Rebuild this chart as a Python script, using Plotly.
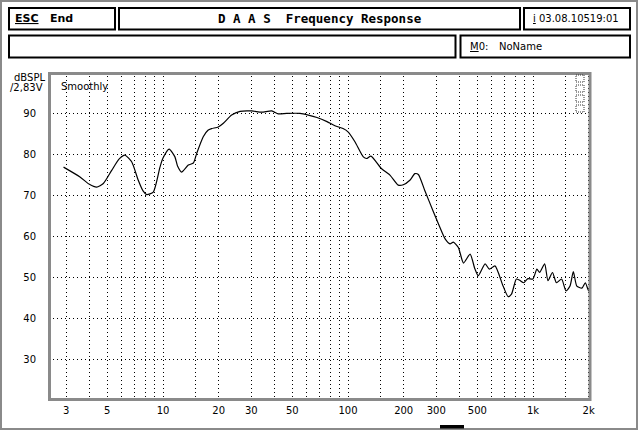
import plotly.graph_objects as go

# ---- data ----
freq_hz = [2.9, 3.56, 4.0, 4.38, 4.76, 5.28, 5.8, 6.23, 6.77, 7.35, 7.8, 8.16, 8.86,
           9.63, 10.0, 10.8, 11.6, 12.0, 12.6, 13.7, 14.6, 15.2, 16.5, 17.5, 18.3,
           19.9, 21.2, 23.5, 26.1, 30.2, 34.1, 38.7, 42, 46.6, 55, 61, 68, 77, 85,
           94, 100, 109, 121, 126, 133, 152, 169, 187, 199, 216, 230, 240, 260, 289,
           308, 335, 356, 371, 395, 421, 457, 485, 506, 551, 581, 623, 689, 734, 765,
           813, 847, 890, 938, 998, 1050, 1086, 1156, 1205, 1274, 1339, 1427, 1508,
           1585, 1652, 1725, 1838, 1917, 2000, 2041]
spl_db = [76.8, 74.4, 72.6, 71.9, 72.8, 76.0, 78.8, 79.7, 78.1, 73.6, 71.0, 70.1, 70.7,
          76.8, 79.0, 81.2, 79.3, 77.0, 75.6, 77.3, 77.8, 80.1, 84.2, 85.8, 86.2,
          86.6, 87.5, 89.5, 90.4, 90.5, 90.2, 90.5, 89.8, 89.9, 89.9, 89.5, 88.9, 87.9, 86.9,
          86.2, 85.4, 83.0, 79.3, 78.9, 79.5, 76.4, 74.8, 72.4, 72.5, 73.6, 75.2, 75.0, 71.1, 66.0,
          63.0, 59.3, 58.1, 58.5, 57.2, 53.4, 55.6, 52.0, 50.3, 53.2, 51.9, 52.7, 47.8, 45.2, 45.8,
          49.5, 49.2, 48.6, 49.6, 49.5, 51.9, 51.1, 53.2, 49.1, 51.1, 48.6, 49.5, 46.6,
          47.8, 51.3, 47.8, 47.3, 48.6, 46.6, 47.4]

x_grid = [3, 4, 5, 6, 7, 8, 9, 10, 15, 20, 30, 40, 50, 60, 70, 80, 90, 100, 150,
          200, 300, 400, 500, 600, 700, 800, 900, 1000, 1500, 2000]
x_labels = {3: "3", 5: "5", 10: "10", 20: "20", 30: "30", 50: "50", 100: "100",
            200: "200", 300: "300", 500: "500", 1000: "1k", 2000: "2k"}
y_ticks = [30, 40, 50, 60, 70, 80, 90]
y_labels = ["30", "40", "50", "60", "70", "80", "90"]

title_text = "D A A S  Frequency Response"
date_text = "03.08.10519:01"
model_text = "NoName"

# ---- geometry ----
W, H = 640, 431
L, R, T, B = 49, 591, 72, 400
PW, PH = R - L, B - T


def xp(px):
    return (px - L) / PW


def yp(py):
    return (B - py) / PH


FONT = "DejaVu Sans"

fig = go.Figure()
fig.add_trace(go.Scatter(x=freq_hz, y=spl_db, mode="lines",
                         line=dict(color="black", width=1.2, shape="spline", smoothing=0.6),
                         hoverinfo="skip", showlegend=False))

shapes = []


def rect(x0, y0, x1, y1, color="black", width=2, dash="solid", fill=None):
    d = dict(type="rect", xref="paper", yref="paper",
             x0=xp(x0), x1=xp(x1), y0=yp(y0), y1=yp(y1),
             line=dict(color=color, width=width, dash=dash), layer="above")
    if fill:
        d["fillcolor"] = fill
        d["line"]["width"] = 0
    shapes.append(d)


# outer dithered frame
rect(1, 1, 637, 429, color="#8a8a8a", width=2)
# header boxes
rect(9, 8, 115, 29.5)
rect(119, 8, 520, 29.5)
rect(524, 8, 630, 29.5)
rect(9, 35.5, 455.5, 57.5)
rect(460.5, 35.5, 630, 57.5)
# plot border (dithered)
rect(49.5, 73.5, 590, 399.5, color="#8a8a8a", width=3)
# little icon stack in top-right corner of plot
for i in range(4):
    rect(576, 75 + i * 10, 584, 82 + i * 10, color="#333333", width=1, dash="1px,1px")
# scroll marker at bottom
rect(440, 425, 464, 428.5, fill="black")

annotations = []


def text(px, py, s, size=10, bold=False, anchor="left", family=FONT):
    if bold:
        s = "<b>" + s + "</b>"
    annotations.append(dict(xref="paper", yref="paper", x=xp(px), y=yp(py), text=s,
                            showarrow=False, xanchor=anchor, yanchor="middle",
                            font=dict(family=family, size=size, color="black")))


text(13, 19, "<u>ESC</u>", size=11, bold=True)
text(48, 19, "End", size=11, bold=True)
text(320, 19, title_text, size=12.5, bold=True, anchor="center", family="DejaVu Sans Mono")
text(531, 18.5, "<u>i</u> " + date_text, size=10)
text(468, 46.5, "<u>M</u>0:", size=10)
text(497, 46.5, model_text, size=10)
text(12, 77, "dBSPL", size=10)
text(8, 87.5, "/2,83V", size=10)
text(59, 86, "Smoothly", size=10)

fig.update_layout(
    width=W, height=H,
    margin=dict(l=L, r=W - R, t=T, b=H - B, pad=0),
    paper_bgcolor="white", plot_bgcolor="white",
    shapes=shapes, annotations=annotations,
    font=dict(family=FONT, size=10, color="black"),
    xaxis=dict(type="log", range=[0.3838, 3.3135],
               tickmode="array", tickvals=x_grid,
               ticktext=[x_labels.get(v, "") for v in x_grid],
               showgrid=True, gridcolor="black", gridwidth=1, griddash="1px,3px",
               ticks="", showline=False, zeroline=False,
               tickfont=dict(family=FONT, size=10, color="black"),
               ticklabelstandoff=3),
    yaxis=dict(range=[20, 100], tickmode="array", tickvals=y_ticks, ticktext=y_labels,
               showgrid=True, gridcolor="black", gridwidth=1, griddash="1px,3px",
               ticks="", showline=False, zeroline=False,
               tickfont=dict(family=FONT, size=10, color="black"),
               ticklabelstandoff=12),
)

fig.write_html("out.html", config={"displayModeBar": False, "staticPlot": True},
               post_script="document.body.style.margin='0';document.body.style.overflow='hidden';")
